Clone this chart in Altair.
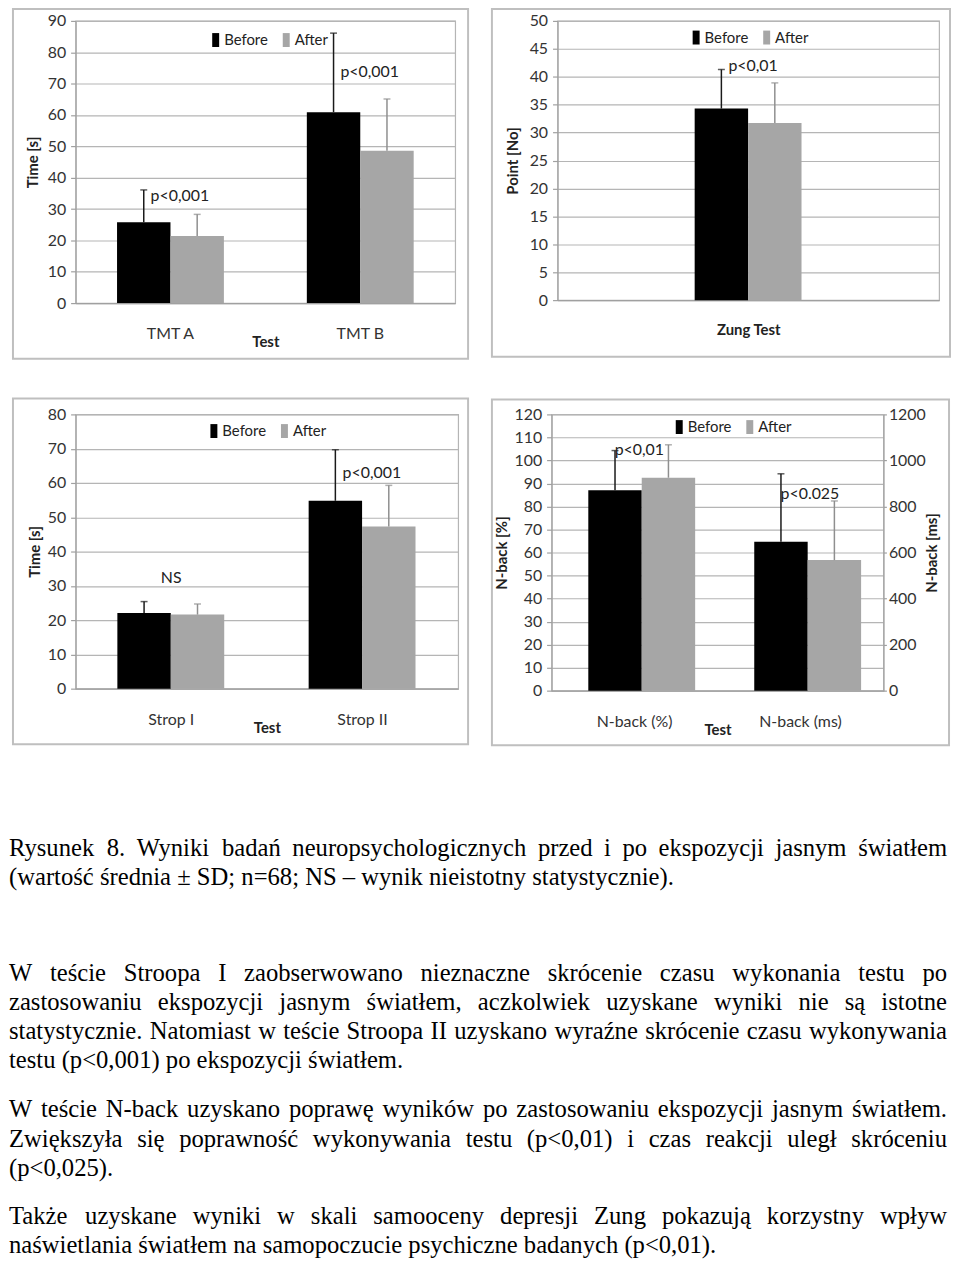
import altair as alt
import pandas as pd

# ---------------- data ----------------
SERIES = ["Before", "After"]

TMT_TESTS = ["TMT A", "TMT B"]
TMT_BEFORE = [25.8, 60.9]
TMT_BEFORE_SD = [10.3, 25.2]
TMT_AFTER = [21.4, 48.6]
TMT_AFTER_SD = [6.9, 16.5]
TMT_NOTES = ["p<0,001", "p<0,001"]
TMT_NOTE_Y = [34.2, 73.8]

ZUNG_TESTS = ["Zung Test"]
ZUNG_BEFORE = [34.3]
ZUNG_BEFORE_SD = [7.0]
ZUNG_AFTER = [31.7]
ZUNG_AFTER_SD = [7.2]
ZUNG_NOTES = ["p<0,01"]
ZUNG_NOTE_Y = [42.0]

STROP_TESTS = ["Strop I", "Strop II"]
STROP_BEFORE = [22.1, 54.8]
STROP_BEFORE_SD = [3.3, 14.9]
STROP_AFTER = [21.6, 47.3]
STROP_AFTER_SD = [3.1, 12.0]
STROP_NOTES = ["NS", "p<0,001"]
STROP_NOTE_Y = [32.2, 62.9]

NBACK_TESTS = ["N-back (%)", "N-back (ms)"]
NBACK_PCT_BEFORE = [87.0]
NBACK_PCT_BEFORE_SD = [17.3]
NBACK_PCT_AFTER = [92.5]
NBACK_PCT_AFTER_SD = [14.3]
NBACK_PCT_NOTES = ["p<0,01"]
NBACK_PCT_NOTE_Y = [104.4]
NBACK_MS_BEFORE = [647]
NBACK_MS_BEFORE_SD = [295]
NBACK_MS_AFTER = [567]
NBACK_MS_AFTER_SD = [257]
NBACK_MS_NOTES = ["p<0.025"]
NBACK_MS_NOTE_Y = [855]

CAPTION = [
    "Rysunek 8. Wyniki badań neuropsychologicznych przed i po ekspozycji jasnym światłem",
    "(wartość średnia ± SD; n=68; NS – wynik nieistotny statystycznie).",
]
PARA1 = [
    "W teście Stroopa I zaobserwowano nieznaczne skrócenie czasu wykonania testu po",
    "zastosowaniu ekspozycji jasnym światłem, aczkolwiek uzyskane wyniki nie są istotne",
    "statystycznie. Natomiast w teście Stroopa II uzyskano wyraźne skrócenie czasu wykonywania",
    "testu (p<0,001) po ekspozycji światłem.",
]
PARA2 = [
    "W teście N-back uzyskano poprawę wyników po zastosowaniu ekspozycji jasnym światłem.",
    "Zwiększyła się poprawność wykonywania testu (p<0,01) i czas reakcji uległ skróceniu",
    "(p<0,025).",
]
PARA3 = [
    "Także uzyskane wyniki w skali samooceny depresji Zung pokazują korzystny wpływ",
    "naświetlania światłem na samopoczucie psychiczne badanych (p<0,01).",
]

# ---------------- styles ----------------
FONT = "Lato"
BAR_COLORS = ["#000000", "#a6a6a6"]
ERR_COLORS = ["#1a1a1a", "#8f8f8f"]
GRID = "#b5b5b5"
AX = "#a0a0a0"
FRAME = "#bfbfbf"
LEG_SYMBOL = "M-0.5,-1H0.5V1H-0.5Z"

TEXT_FONT = "Liberation Serif"
TEXT_FS = 24.8
TEXT_W = 944          # width of the text column on the page
TEXT_SHIFT = 67       # the text column starts this far left of the panels' plot origin
TEXT_H = 470


def make_df(tests, before, bsd, after, asd):
    rows = []
    for t, b, bs, a, a_s in zip(tests, before, bsd, after, asd):
        rows.append(dict(test=t, series="Before", mean=b, top=b + bs))
        rows.append(dict(test=t, series="After", mean=a, top=a + a_s))
    return pd.DataFrame(rows)


def notes_df(tests, notes, ys):
    return pd.DataFrame({"test": tests, "note": notes, "ny": ys})


def frame_layers(w, h, off, ext):
    left, right, top, bottom = off
    base = pd.DataFrame({"k": [0]})
    layers = [
        alt.Chart(base).mark_rect(fillOpacity=0, stroke=FRAME, strokeWidth=2).encode(
            x=alt.value(-left), x2=alt.value(w + right),
            y=alt.value(-top), y2=alt.value(h + bottom))
    ]
    if ext:
        layers.append(
            alt.Chart(base).mark_rect(opacity=0).encode(
                x=alt.value(-left - ext), x2=alt.value(-left - ext + 1),
                y=alt.value(0), y2=alt.value(1)))
    return layers


def bar_group(df, ndf, tests, x_enc, ymax, ystep, y_axis, legend):
    xo = alt.XOffset("series:N", sort=SERIES,
                     scale=alt.Scale(domain=SERIES, paddingInner=0, paddingOuter=0))
    yscale = alt.Scale(domain=[0, ymax], nice=False)

    def yenc(field):
        return alt.Y(field, type="quantitative", scale=yscale, axis=y_axis)

    bars = alt.Chart(df).mark_bar().encode(
        x=x_enc, xOffset=xo, y=yenc("mean"),
        color=alt.Color("series:N", sort=SERIES,
                        scale=alt.Scale(domain=SERIES, range=BAR_COLORS), legend=legend))
    err = alt.Chart(df).mark_rule(strokeWidth=1.5).encode(
        x=x_enc, xOffset=xo, y=yenc("mean"), y2="top:Q",
        stroke=alt.Stroke("series:N", sort=SERIES,
                          scale=alt.Scale(domain=SERIES, range=ERR_COLORS), legend=None))
    caps = alt.Chart(df).mark_tick(thickness=1.5, size=7).encode(
        x=x_enc, xOffset=xo, y=yenc("top"),
        fill=alt.Fill("series:N", sort=SERIES,
                      scale=alt.Scale(domain=SERIES, range=ERR_COLORS), legend=None))
    sig = alt.Chart(ndf).transform_filter(alt.datum.note != "NS").mark_text(
        align="left", baseline="middle", dx=-20, fontSize=16, color="#222").encode(
        x=x_enc, y=yenc("ny"), text="note:N")
    ns = alt.Chart(ndf).transform_filter(alt.datum.note == "NS").mark_text(
        align="center", baseline="middle", fontSize=16, color="#222").encode(
        x=x_enc, y=yenc("ny"), text="note:N")
    return [bars, err, caps, sig, ns]


def y_axis(ymax, ystep, title, tpad, orient="left", grid=True):
    return alt.Axis(values=list(range(0, ymax + 1, ystep)), orient=orient, grid=grid,
                    gridColor=GRID, gridWidth=1.2, domainColor=AX, domainWidth=1.2,
                    tickColor=AX, tickSize=5, tickWidth=1.2, labelFontSize=16,
                    labelColor="#333", labelPadding=5, title=title, titleFontSize=15,
                    titleFontWeight="bold", titleColor="#222", titlePadding=tpad,
                    titleAngle=270, format="d")


def x_axis(title, labels=True, tpad=-7):
    return alt.Axis(title=title, labels=labels, labelAngle=0, ticks=False, tickSize=0,
                    domainColor=AX, domainWidth=1.2, labelFontSize=16, labelPadding=23,
                    labelColor="#333", titleFontSize=15, titleFontWeight="bold",
                    titleColor="#222", titlePadding=tpad, grid=False)


def legend(lx, ly):
    return alt.Legend(orient="none", legendX=lx, legendY=ly, direction="horizontal",
                      title=None, symbolType=LEG_SYMBOL, symbolSize=196,
                      symbolStrokeWidth=0, labelFontSize=15, labelColor="#222",
                      labelOffset=1, columnPadding=10)


def panel(df, ndf, tests, ymax, ystep, ytitle, ytpad, xtitle, xlabels, xtpad,
          w, h, pi, po, leg, off, ext):
    x_enc = alt.X("test:N", sort=tests,
                  scale=alt.Scale(domain=tests, paddingInner=pi, paddingOuter=po),
                  axis=x_axis(xtitle, xlabels, xtpad))
    layers = frame_layers(w, h, off, ext) + bar_group(
        df, ndf, tests, x_enc, ymax, ystep, y_axis(ymax, ystep, ytitle, ytpad), legend(*leg))
    return alt.layer(*layers).properties(width=w, height=h)


# ---------------- panels ----------------
p1 = panel(make_df(TMT_TESTS, TMT_BEFORE, TMT_BEFORE_SD, TMT_AFTER, TMT_AFTER_SD),
           notes_df(TMT_TESTS, TMT_NOTES, TMT_NOTE_Y), TMT_TESTS, 90, 10, "Time [s]", 7,
           "Test", True, -7, 382, 284, 0.437, 0.2185, (133.5, 11.5), (63, 13, 12, 56), 4)

p2 = panel(make_df(ZUNG_TESTS, ZUNG_BEFORE, ZUNG_BEFORE_SD, ZUNG_AFTER, ZUNG_AFTER_SD),
           notes_df(ZUNG_TESTS, ZUNG_NOTES, ZUNG_NOTE_Y), ZUNG_TESTS, 50, 5, "Point [No]", 9,
           "Zung Test", False, 23, 384, 281, 0.437, 0.72, (132, 9), (66, 11, 12, 57), 0)

p3 = panel(make_df(STROP_TESTS, STROP_BEFORE, STROP_BEFORE_SD, STROP_AFTER, STROP_AFTER_SD),
           notes_df(STROP_TESTS, STROP_NOTES, STROP_NOTE_Y), STROP_TESTS, 80, 10, "Time [s]", 5,
           "Test", True, -7, 385, 276, 0.437, 0.2185, (131.7, 9), (63, 10, 16, 56), 4)

# panel 4: dual axis
W4, H4 = 334, 278
x4 = alt.X("test:N", sort=NBACK_TESTS,
           scale=alt.Scale(domain=NBACK_TESTS, paddingInner=0.443, paddingOuter=0.2215),
           axis=x_axis("Test", True, -7))
pct_layer = alt.layer(*bar_group(
    make_df(NBACK_TESTS[:1], NBACK_PCT_BEFORE, NBACK_PCT_BEFORE_SD, NBACK_PCT_AFTER, NBACK_PCT_AFTER_SD),
    notes_df(NBACK_TESTS[:1], NBACK_PCT_NOTES, NBACK_PCT_NOTE_Y), NBACK_TESTS, x4, 120, 10,
    y_axis(120, 10, "N-back [%]", 4), legend(121, 5)))
ms_axis = alt.Axis(values=list(range(0, 1201, 200)), orient="right", grid=False,
                   domainColor=AX, domainWidth=1.2, tickColor=AX, tickSize=3, tickWidth=1.2,
                   labelFontSize=16, labelColor="#333", labelPadding=2, title="N-back [ms]",
                   titleFontSize=15, titleFontWeight="bold", titleColor="#222",
                   titlePadding=14, titleAngle=270, format="d")
ms_layer = alt.layer(*bar_group(
    make_df(NBACK_TESTS[1:], NBACK_MS_BEFORE, NBACK_MS_BEFORE_SD, NBACK_MS_AFTER, NBACK_MS_AFTER_SD),
    notes_df(NBACK_TESTS[1:], NBACK_MS_NOTES, NBACK_MS_NOTE_Y), NBACK_TESTS, x4, 1200, 200,
    ms_axis, legend(121, 5)))
p4 = alt.layer(*frame_layers(W4, H4, (60, 66, 15, 55), 0), pct_layer, ms_layer).resolve_scale(
    y="independent").properties(width=W4, height=H4)

# ---------------- text block ----------------
TW = {' ': 250, '!': 333, '(': 333, ')': 333, ',': 250, '-': 333, '.': 250, ':': 278,
      ';': 278, '<': 564, '=': 564, '>': 564, '±': 564, '–': 500,
      'A': 722, 'B': 667, 'C': 667, 'D': 722, 'E': 611, 'F': 556, 'G': 722, 'H': 722,
      'I': 333, 'J': 389, 'K': 722, 'L': 611, 'M': 889, 'N': 722, 'O': 722, 'P': 556,
      'Q': 722, 'R': 667, 'S': 556, 'T': 611, 'U': 722, 'V': 722, 'W': 944, 'X': 722,
      'Y': 722, 'Z': 611, 'a': 444, 'b': 500, 'c': 444, 'd': 500, 'e': 444, 'f': 333,
      'g': 500, 'h': 500, 'i': 278, 'j': 278, 'k': 500, 'l': 278, 'm': 778, 'n': 500,
      'o': 500, 'p': 500, 'q': 500, 'r': 333, 's': 389, 't': 278, 'u': 500, 'v': 500,
      'w': 722, 'x': 500, 'y': 500, 'z': 444, 'ą': 444, 'ć': 444, 'ę': 444, 'ł': 278,
      'ń': 500, 'ó': 500, 'ś': 389, 'ź': 444, 'ż': 444, 'Ś': 556, 'Ż': 611, 'Ł': 611}


def word_w(wd):
    return sum(TW.get(c, 500) for c in wd) * TEXT_FS / 1000.0


LINE_H = 29.3
FIRST_Y = 65
GAPS = [0, 67.4, 20.3, 19.5]  # extra space before each paragraph

rows = []
y = FIRST_Y
for pi_, para in enumerate([CAPTION, PARA1, PARA2, PARA3]):
    y += GAPS[pi_] if pi_ else 0
    for li, line in enumerate(para):
        last = li == len(para) - 1
        if last:
            rows.append(dict(word=line, x=0, y=y, side="L"))
        else:
            words = line.split(" ")
            ws = [word_w(wd) for wd in words]
            gap = (TEXT_W - sum(ws)) / (len(words) - 1)
            xx = 0.0
            for k, (wd, ww) in enumerate(zip(words, ws)):
                if k == len(words) - 1:
                    rows.append(dict(word=wd, x=TEXT_W, y=y, side="R"))
                else:
                    rows.append(dict(word=wd, x=xx, y=y, side="L"))
                xx += ww + gap
        y += LINE_H
text_df = pd.DataFrame(rows)

tx = alt.X("x:Q", scale=alt.Scale(domain=[0, TEXT_W], range=[-TEXT_SHIFT, TEXT_W - TEXT_SHIFT],
                                  nice=False, zero=False), axis=None)
ty = alt.Y("y:Q", scale=alt.Scale(domain=[0, TEXT_H], nice=False, reverse=True), axis=None)
txt_left = alt.Chart(text_df).transform_filter(alt.datum.side == "L").mark_text(
    align="left", baseline="middle", font=TEXT_FONT, fontSize=TEXT_FS, color="#000").encode(
    x=tx, y=ty, text="word:N")
txt_right = alt.Chart(text_df).transform_filter(alt.datum.side == "R").mark_text(
    align="right", baseline="middle", font=TEXT_FONT, fontSize=TEXT_FS, color="#000").encode(
    x=tx, y=ty, text="word:N")
text_chart = alt.layer(txt_left, txt_right).properties(
    width=TEXT_W - TEXT_SHIFT, height=TEXT_H, view=alt.ViewBackground(stroke="transparent"))

# ---------------- assemble ----------------
res = dict(color="independent", stroke="independent", fill="independent")
row1 = alt.hconcat(p1, p2, spacing=20).resolve_scale(**res).resolve_legend(color="independent")
row2 = alt.hconcat(p3, p4, spacing=20).resolve_scale(**res).resolve_legend(color="independent")

chart = alt.vconcat(row1, row2, text_chart, spacing=36).resolve_scale(**res).resolve_legend(
    color="independent").properties(
    padding={"top": -5, "left": 0, "right": 0, "bottom": 0}, background="white").configure(
    font=FONT).configure_view(stroke=GRID, strokeWidth=1.2)

chart.save("out.html", embed_options={"renderer": "svg", "actions": False})
